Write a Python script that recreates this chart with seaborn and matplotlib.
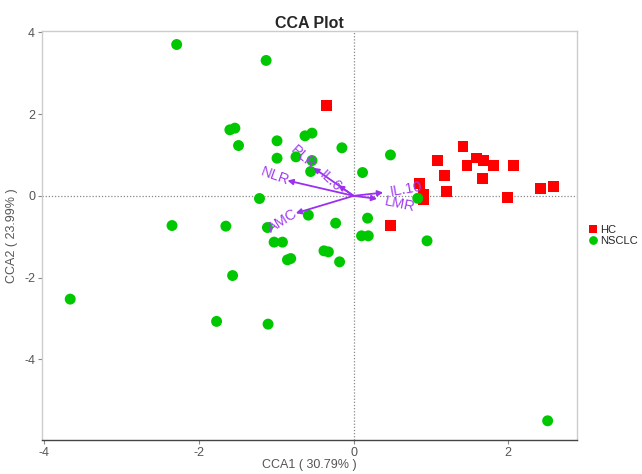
import matplotlib
matplotlib.use("Agg")
import matplotlib.pyplot as plt
import seaborn as sns
import pandas as pd

# ---- data ----
hc_x = [1.415, 1.088, 1.467, 1.587, 1.681, 1.810, 2.068, 1.170, 1.665, 1.200,
        0.855, 0.907, 0.907, 1.996, 2.422, 2.581, 0.477, -0.348]
hc_y = [1.195, 0.859, 0.736, 0.925, 0.859, 0.736, 0.736, 0.508, 0.425, 0.115,
        0.312, 0.042, -0.098, -0.032, 0.189, 0.221, -0.736, 2.209]

ns_x = [-2.288, -1.600, -1.535, -1.488, -1.131, -0.990, -0.628, -0.538, -0.151, 0.477,
        -0.990, -0.745, -0.538, -0.555, 0.116, -1.217, -0.585, -0.232, 0.181, -1.114,
        0.103, 0.190, -1.028, -0.920, 0.830, 0.950, -1.652, -0.383, -0.326, -0.855,
        -0.813, -0.181, -1.565, -1.772, -1.106, -2.348, -3.665, 2.510]
ns_y = [3.700, 1.614, 1.655, 1.230, 3.310, 1.345, 1.467, 1.533, 1.174, 1.000,
        0.920, 0.953, 0.863, 0.594, 0.570, -0.066, -0.472, -0.668, -0.546, -0.775,
        -0.978, -0.978, -1.132, -1.132, -0.060, -1.100, -0.741, -1.345, -1.370, -1.565,
        -1.533, -1.614, -1.949, -3.070, -3.137, -0.726, -2.525, -5.500]

arrow_names = ["NLR", "PLR", "IL.6", "AMC", "IL.10", "LMR"]
arrow_x = [-0.855, -0.52, -0.20, -0.748, 0.383, 0.305]
arrow_y = [0.374, 0.685, 0.26, -0.425, 0.080, -0.073]

groups = ["HC", "NSCLC"]
xlabel = "CCA1 ( 30.79% )"
ylabel = "CCA2 ( 23.99% )"
title = "CCA Plot"

# ---- build frame ----
df = pd.DataFrame({
    "x": hc_x + ns_x,
    "y": hc_y + ns_y,
    "group": ["HC"] * len(hc_x) + ["NSCLC"] * len(ns_x),
})

sns.set_style("white")
plt.rcParams["font.family"] = ["Liberation Sans", "DejaVu Sans"]
plt.rcParams["axes.unicode_minus"] = False
fig = plt.figure(figsize=(6.42, 4.74), dpi=100)
ax = fig.add_axes([0.0654, 0.0717, 0.8334, 0.8629])

ax.axhline(0, color="#888888", ls=(0, (1, 1.5)), lw=0.9, zorder=0)
ax.axvline(0, color="#888888", ls=(0, (1, 1.5)), lw=0.9, zorder=0)

sns.scatterplot(data=df, x="x", y="y", hue="group", style="group",
                hue_order=groups, style_order=groups,
                palette={"HC": "#FF0000", "NSCLC": "#00C800"},
                markers={"HC": "s", "NSCLC": "o"},
                s=62, linewidth=0, ax=ax, legend=True, zorder=3)

purple = "#9B30F0"
label_pos = {
    "NLR": (-1.02, 0.48, -20),
    "PLR": (-0.66, 0.93, -42),
    "IL.6": (-0.30, 0.35, -42),
    "AMC": (-0.92, -0.62, 32),
    "IL.10": (0.68, 0.15, 10),
    "LMR": (0.60, -0.21, -12),
}
for name, ax_, ay_ in zip(arrow_names, arrow_x, arrow_y):
    ax.annotate("", xy=(ax_, ay_), xytext=(0, 0),
                arrowprops=dict(arrowstyle="-|>", color=purple, lw=1.3,
                                mutation_scale=8, shrinkA=0, shrinkB=0),
                zorder=4)
    lx, ly, rot = label_pos[name]
    ax.text(lx, ly, name, color="#A040F0", fontsize=10.5, rotation=rot,
            rotation_mode="anchor", ha="center", va="center", zorder=5)

ax.set_xlim(-4.03, 2.89)
ax.set_ylim(-5.97, 4.03)
ax.set_xticks([-4, -2, 0, 2])
ax.set_yticks([-4, -2, 0, 2, 4])
ax.set_xlabel(xlabel, color="#555555", fontsize=9, labelpad=0)
ax.set_ylabel(ylabel, color="#555555", fontsize=9, labelpad=4)
ax.set_title(title, fontsize=11.5, fontweight="bold", pad=2)

for side in ["top", "right", "left"]:
    ax.spines[side].set_color("#CCCCCC")
    ax.spines[side].set_linewidth(1.0)
ax.spines["bottom"].set_color("#444444")
ax.spines["bottom"].set_linewidth(1.0)
ax.tick_params(axis="both", which="both", length=3, width=0.8, color="#888888",
               labelcolor="#555555", labelsize=9, direction="out", pad=2,
               bottom=True, left=True)

leg = ax.legend(loc="center left", bbox_to_anchor=(1.01, 0.5), frameon=False,
                fontsize=8, handletextpad=0.0, borderaxespad=0.2,
                labelspacing=0.15, markerscale=0.8, handlelength=1.2,
                borderpad=0.2)

fig.savefig("out.png", dpi=100)
